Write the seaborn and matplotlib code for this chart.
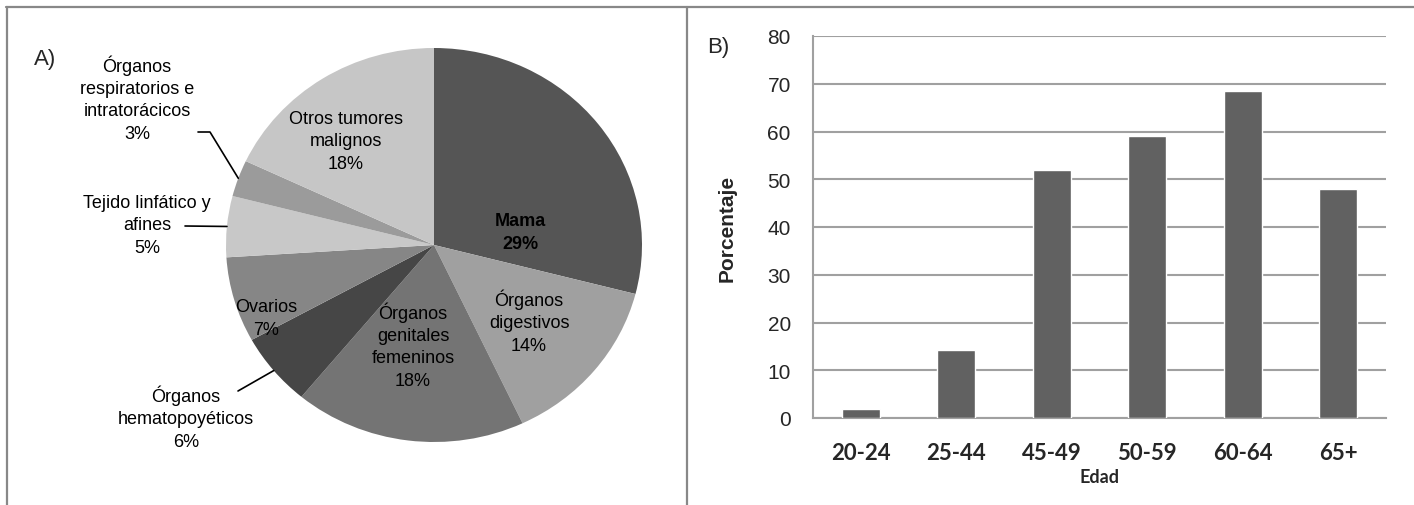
import matplotlib
matplotlib.use("Agg")
import matplotlib.pyplot as plt
from matplotlib.lines import Line2D
import numpy as np
import pandas as pd
import seaborn as sns

# Panel A: distribution of cancer sites (%)
sitios = ["Mama", "Órganos\ndigestivos", "Órganos\ngenitales\nfemeninos",
          "Órganos\nhematopoyéticos", "Ovarios", "Tejido linfático y\nafines",
          "Órganos\nrespiratorios e\nintratorácicos", "Otros tumores\nmalignos"]
porcentajes = [29, 14, 18, 6, 7, 5, 3, 18]
colores_pie = ["#555555", "#a0a0a0", "#747474", "#464646",
               "#868686", "#c8c8c8", "#9b9b9b", "#c6c6c6"]

# Panel B: percentage by age group
edades = ["20-24", "25-44", "45-49", "50-59", "60-64", "65+"]
porcentaje_edad = [1.8, 14.3, 52.0, 59.0, 68.5, 48.0]
yticks_b = [0, 10, 20, 30, 40, 50, 60, 70, 80]

sns.set_theme(style="white")
plt.rcParams["font.family"] = ["Liberation Sans", "DejaVu Sans"]

W, H = 1414, 506
fig = plt.figure(figsize=(W / 100, H / 100), dpi=100)


def fx(px):
    return px / W


def fy(py):
    return 1 - py / H


# ---- frame lines
frame_kw = dict(color="#888888", lw=1.6, transform=fig.transFigure)
fig.add_artist(Line2D([fx(6), fx(W)], [fy(8), fy(8)], **frame_kw))
fig.add_artist(Line2D([fx(7), fx(7)], [fy(8), fy(H)], **frame_kw))
fig.add_artist(Line2D([fx(687), fx(687)], [fy(8), fy(H)], **frame_kw))

# ---- Panel A: pie
axA = fig.add_axes([fx(226), fy(443), fx(416), 394 / H])
wedges, _ = axA.pie(porcentajes, colors=colores_pie, startangle=90,
                    counterclock=False, radius=1,
                    wedgeprops=dict(linewidth=0))
axA.set_aspect("auto")
axA.set_xlim(-1, 1)
axA.set_ylim(-1, 1)
axA.axis("off")

label_px = {
    0: (520, 233),
    1: (529, 322),
    2: (413, 346),
    3: (186, 418),
    4: (266, 319),
    5: (147, 226),
    6: (137, 99),
    7: (346, 142),
}
txt_kw = dict(ha="center", va="center", fontsize=13, color="black",
              linespacing=1.42, transform=fig.transFigure)
for i, (nombre, val) in enumerate(zip(sitios, porcentajes)):
    x, y = label_px[i]
    weight = "bold" if i == 0 else "normal"
    fig.text(fx(x), fy(y), f"{nombre}\n{val}%", fontweight=weight, **txt_kw)


def edge_point(w):
    ang = np.deg2rad((w.theta1 + w.theta2) / 2)
    disp = axA.transData.transform((np.cos(ang), np.sin(ang)))
    return fig.transFigure.inverted().transform(disp)


leaders = {6: [(198, 133), (210, 133)], 5: [(185, 227)], 3: [(238, 392)]}
for i, pts in leaders.items():
    ex, ey = edge_point(wedges[i])
    xs = [fx(p[0]) for p in pts] + [ex]
    ys = [fy(p[1]) for p in pts] + [ey]
    fig.add_artist(Line2D(xs, ys, color="black", lw=1.2, transform=fig.transFigure))

fig.text(fx(45), fy(60), "A)", fontsize=16, ha="center", va="center")

# ---- Panel B: bars
axB = fig.add_axes([fx(813), fy(419), fx(1386 - 813), (419 - 37) / H])
df = pd.DataFrame({"Edad": edades, "Porcentaje": porcentaje_edad})
sns.barplot(data=df, x="Edad", y="Porcentaje", color="#616161", width=0.4,
            saturation=1, ax=axB, zorder=3)
axB.set_ylim(0, 80)
axB.set_xlim(-0.5, len(edades) - 0.5)
axB.set_yticks(yticks_b)
axB.yaxis.grid(True, color="#a0a0a0", lw=1.5, zorder=0)
axB.set_axisbelow(True)
for s in ["top", "right"]:
    axB.spines[s].set_visible(False)
for s in ["left", "bottom"]:
    axB.spines[s].set_color("#a0a0a0")
    axB.spines[s].set_linewidth(1.5)
axB.tick_params(axis="both", length=0)
axB.tick_params(axis="y", pad=16, labelsize=15)
axB.tick_params(axis="x", pad=17)
for lbl in axB.get_xticklabels():
    lbl.set_fontfamily(["Lato", "DejaVu Sans"])
    lbl.set_fontweight("bold")
    lbl.set_fontsize(16)
axB.set_xlabel("Edad", fontsize=13, fontweight="bold", family=["Lato", "DejaVu Sans"], labelpad=4)
axB.set_ylabel("Porcentaje", fontsize=15, fontweight="bold", labelpad=22)

fig.text(fx(718), fy(47), "B)", fontsize=16, ha="center", va="center")

fig.savefig("out.png", dpi=100, facecolor="white")
